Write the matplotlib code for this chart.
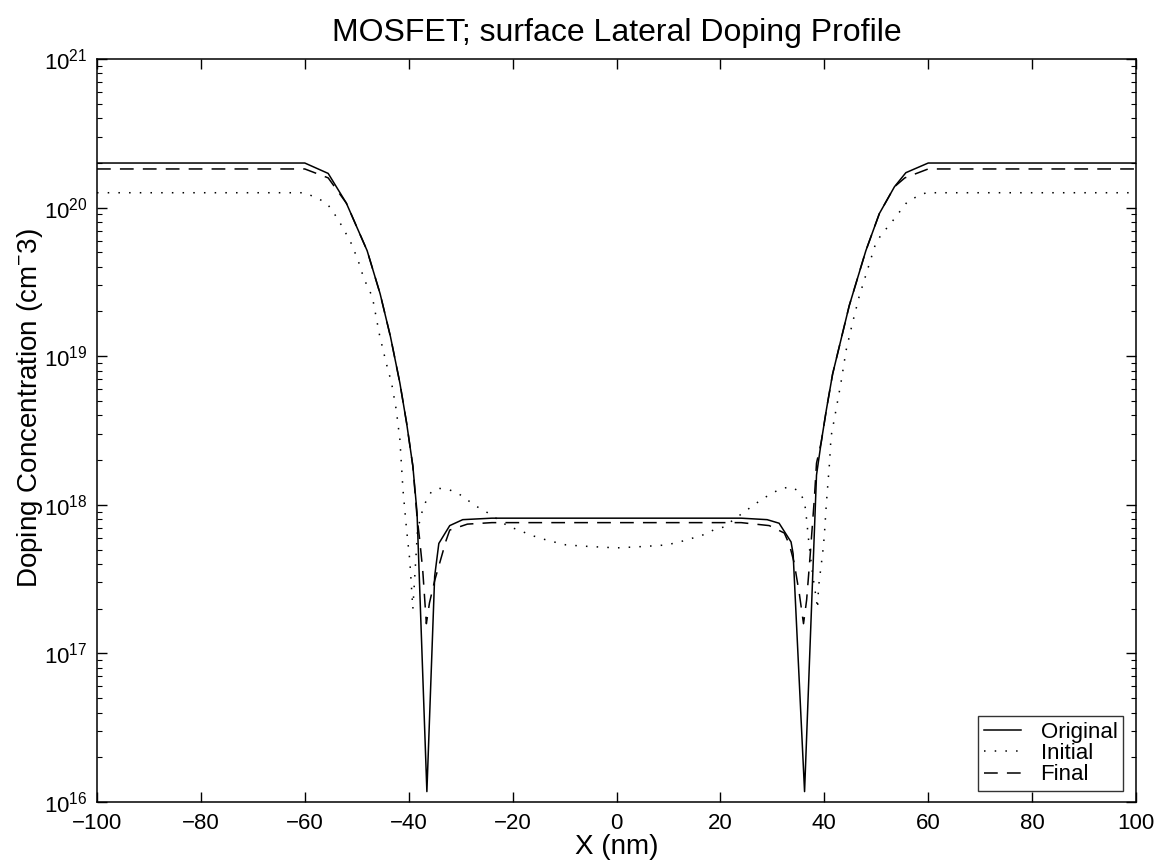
import numpy as np
import matplotlib
matplotlib.use("Agg")
import matplotlib.pyplot as plt
from matplotlib.ticker import LogLocator, FixedLocator, NullFormatter

plt.rcParams['font.family'] = ['Liberation Sans', 'DejaVu Sans']
plt.rcParams['mathtext.fontset'] = 'custom'
plt.rcParams['mathtext.rm'] = 'Liberation Sans'
plt.rcParams['mathtext.it'] = 'Liberation Sans:italic'
plt.rcParams['mathtext.default'] = 'regular'

# ---- data (x in nm, log10 of doping concentration in cm^-3) ----
orig_x = [-100, -60, -55.5, -52, -48, -45.5, -43.5, -41.7, -40.4, -39.2, -38.4,
          -36.5, -35.0, -34.2, -32.1, -29.6, -24, 24, 29, 31.3, 33.6, 34.0,
          36.2, 38.5, 39.4, 40.4, 41.6, 43.2, 44.8, 48.0, 50.6, 53.5, 55.7, 60, 100]
orig_log = [20.30, 20.30, 20.23, 20.03, 19.71, 19.42, 19.13, 18.82, 18.55, 18.26, 17.95,
            16.07, 17.52, 17.74, 17.86, 17.90, 17.91, 17.91, 17.90, 17.876, 17.75, 17.67,
            16.07, 18.20, 18.42, 18.64, 18.88, 19.11, 19.34, 19.71, 19.96, 20.14, 20.235, 20.30, 20.30]

init_x = [-100, -60, -57.4, -55.8, -54.7, -53.8, -52.75, -51.0, -49.7, -48.6, -47.0,
          -45.6, -44.3, -43.3, -42.4, -41.7, -41.1, -40.4, -39.8, -39.2, -38.3, -37.3,
          -36.6, -35.6, -34.0, -32.1, -30.2, -28.6, -27.0, -25.4, -20.6, -18.65, -16.9,
          -13.2, -9.7, -5.5, 0, 5.5, 9.7, 13.2, 16.9, 18.65, 20.6, 24.9, 28.1, 30.1,
          31.7, 33.6, 35.2, 36.2, 36.6, 37.1, 37.8, 38.4, 38.7, 38.9, 39.7, 40.0, 40.4,
          41.0, 41.3, 42.0, 43.2, 44.2, 45.4, 46.7, 48.3, 49.9, 51.2, 52.5, 53.8, 54.9,
          56.0, 57.6, 59.6, 100]
init_log = [20.10, 20.10, 20.06, 20.03, 19.98, 19.93, 19.87, 19.755, 19.64, 19.52, 19.40,
            19.14, 18.95, 18.82, 18.64, 18.44, 18.10, 17.83, 17.63, 17.30, 17.83, 17.97,
            18.03, 18.09, 18.11, 18.10, 18.07, 18.03, 17.99, 17.96, 17.85, 17.83, 17.80,
            17.76, 17.73, 17.72, 17.71, 17.72, 17.73, 17.76, 17.80, 17.83, 17.85, 17.96, 18.04, 18.08,
            18.11, 18.12, 18.09, 18.02, 17.90, 17.72, 17.52, 17.38, 17.30, 17.45, 17.68, 17.79, 18.01,
            18.28, 18.46, 18.59, 18.82, 19.04, 19.22, 19.40, 19.58, 19.76, 19.83, 19.88, 19.94, 19.99,
            20.04, 20.07, 20.10, 20.10]

final_x = [-100, -60, -55.5, -52, -48, -45.5, -43.5, -41.7, -40.4, -39.2, -38.4, -37.9,
           -37.3, -36.6, -36.0, -35.0, -32.8, -32.1, -28.7, -24, 24, 29.4, 32.3, 33.3,
           34.2, 35.2, 36.0, 36.6, 37.3, 38.1, 38.5, 39.4, 40.4, 41.6, 43.2, 44.8, 48.0,
           50.6, 53.5, 55.5, 60, 100]
final_log = [20.26, 20.26, 20.20, 20.03, 19.71, 19.42, 19.13, 18.82, 18.55, 18.26, 17.92, 17.77,
             17.56, 17.20, 17.34, 17.49, 17.76, 17.83, 17.87, 17.88, 17.88, 17.86, 17.81, 17.73,
             17.61, 17.40, 17.20, 17.36, 17.67, 18.05, 18.28, 18.42, 18.64, 18.88, 19.11, 19.34, 19.71,
             19.96, 20.14, 20.20, 20.26, 20.26]

x_ticks = [-100, -80, -60, -40, -20, 0, 20, 40, 60, 80, 100]

# ---- figure ----
W, H = 1158, 863
fig = plt.figure(figsize=(W / 100, H / 100), dpi=100)
L, R, T, B = 97, 1136, 59, 802
ax = fig.add_axes([L / W, 1 - B / H, (R - L) / W, (B - T) / H])

ax.plot(orig_x, np.power(10.0, orig_log), color='black', lw=1.1, ls='-', label='Original')
ax.plot(init_x, np.power(10.0, init_log), color='black', lw=1.1, dashes=(1.0, 6.0), label='Initial')
ax.plot(final_x, np.power(10.0, final_log), color='black', lw=1.1, dashes=(9.0, 6.0), label='Final')

ax.set_yscale('log')
ax.set_xlim(-100, 100)
ax.set_ylim(1e16, 1e21)
ax.xaxis.set_major_locator(FixedLocator(x_ticks))
ax.yaxis.set_major_locator(LogLocator(base=10, numticks=10))
ax.yaxis.set_minor_locator(LogLocator(base=10, subs=np.arange(2, 10), numticks=20))
ax.yaxis.set_minor_formatter(NullFormatter())

ax.tick_params(which='both', direction='in', top=True, right=True, colors='black',
               labelsize=16)
ax.tick_params(which='major', length=7, width=1)
ax.tick_params(which='minor', length=3.5, width=0.8)
ax.tick_params(axis='x', pad=8)
ax.tick_params(axis='y', pad=7)
for s in ax.spines.values():
    s.set_linewidth(1.1)
    s.set_color('black')

ax.set_title('MOSFET; surface Lateral Doping Profile', fontsize=23, pad=13)
ax.set_xlabel('X (nm)', fontsize=20, labelpad=0)
ax.set_ylabel('Doping Concentration (cm$^{-}$3)', fontsize=20)
ax.yaxis.set_label_coords(-0.05, 0.53)

leg = ax.legend(loc='lower right', bbox_to_anchor=(1 - 13 / (R - L), 11 / (B - T)),
                borderaxespad=0, fontsize=16, frameon=True, fancybox=False,
                handlelength=1.65, handletextpad=0.9, labelspacing=0.02,
                borderpad=0.25, edgecolor='black')
leg.get_frame().set_linewidth(1.0)

fig.savefig('out.png', dpi=100, facecolor='white')
